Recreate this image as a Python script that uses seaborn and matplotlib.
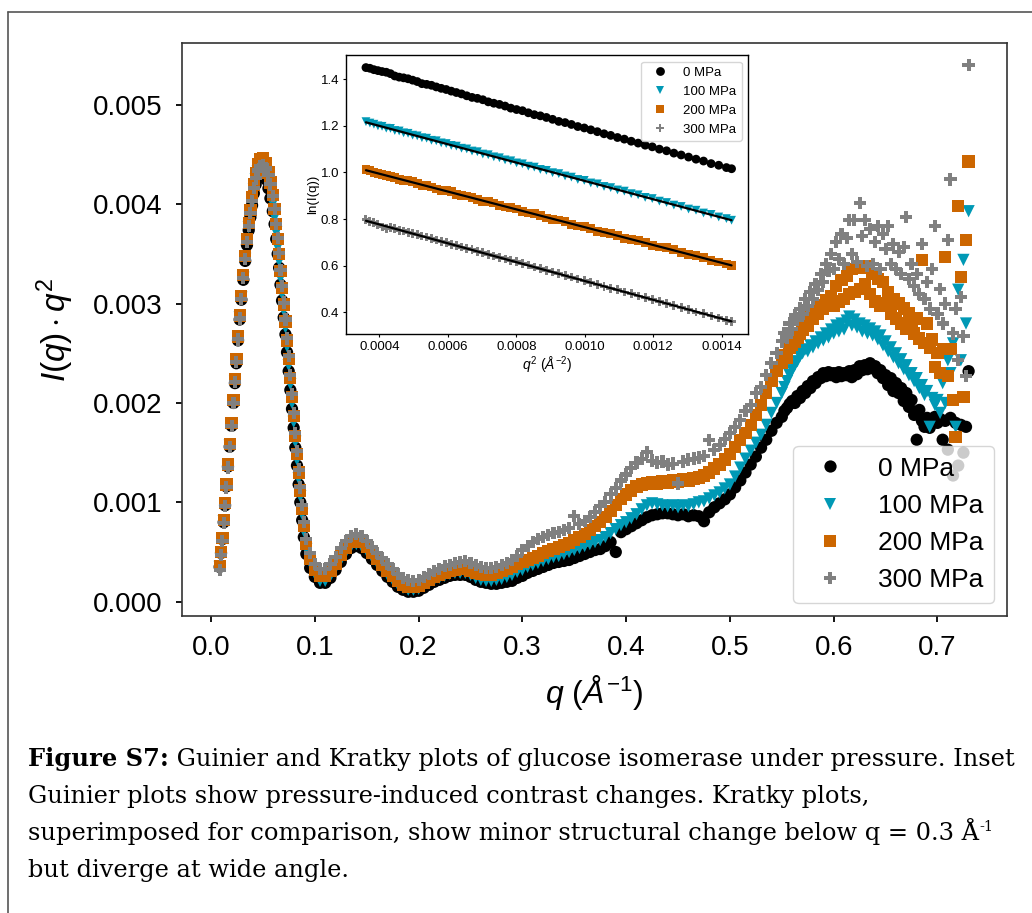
import numpy as np
import pandas as pd
import seaborn as sns
import matplotlib.pyplot as plt
from matplotlib.lines import Line2D
from matplotlib.ticker import FormatStrFormatter

sns.set_theme(style="ticks")
plt.rcParams["font.family"] = ["Liberation Sans", "DejaVu Sans"]
plt.rcParams["mathtext.fontset"] = "custom"
plt.rcParams["mathtext.rm"] = "Liberation Sans"
plt.rcParams["mathtext.it"] = "Liberation Sans:italic"
plt.rcParams["mathtext.bf"] = "Liberation Sans:bold"
plt.rcParams["text.color"] = "black"
plt.rcParams["axes.labelcolor"] = "black"

"""
Data read off the figure
"""
pressures = ["0 MPa", "100 MPa", "200 MPa", "300 MPa"]
colors = ["#000000", "#0099b5", "#cc6600", "#808080"]
markers = ["o", "v", "s", "P"]

# Kratky plot: q (1/A) and I(q)*q^2 (in units of 1e-3)
q_main = [
    0.0083, 0.0096, 0.0109, 0.0122, 0.0135, 0.0148, 0.0163, 0.0180, 0.0198, 0.0216,
    0.0230, 0.0244, 0.0260, 0.0276, 0.0292, 0.0311, 0.0329, 0.0346, 0.0363, 0.0379,
    0.0395, 0.0412, 0.0430, 0.0450, 0.0474, 0.0504, 0.0530, 0.0553, 0.0572, 0.0595,
    0.0612, 0.0628, 0.0642, 0.0656, 0.0669, 0.0684, 0.0700, 0.0717, 0.0732, 0.0748,
    0.0764, 0.0780, 0.0796, 0.0812, 0.0828, 0.0844, 0.0860, 0.0878, 0.0894, 0.0918,
    0.0955,
    0.100, 0.105, 0.110, 0.115, 0.120, 0.125, 0.130, 0.135, 0.140, 0.145,
    0.150, 0.155, 0.160, 0.165, 0.170, 0.175, 0.180, 0.185, 0.190, 0.195,
    0.200, 0.205, 0.210, 0.215, 0.220, 0.225, 0.230, 0.235, 0.240, 0.245,
    0.250, 0.255, 0.260, 0.265, 0.270, 0.275, 0.280, 0.285, 0.290, 0.295,
    0.300, 0.305, 0.310, 0.315, 0.320, 0.325, 0.330, 0.335, 0.340, 0.345,
    0.350, 0.355, 0.360, 0.365, 0.370, 0.375, 0.380, 0.385, 0.390, 0.395,
    0.400, 0.405, 0.410, 0.415, 0.420, 0.425, 0.430, 0.435, 0.440, 0.445,
    0.450, 0.455, 0.460, 0.465, 0.470, 0.475, 0.480, 0.485, 0.490, 0.495,
    0.500, 0.505, 0.510, 0.515, 0.520, 0.525, 0.530, 0.535, 0.540, 0.545,
    0.5500, 0.5525, 0.5550, 0.5575, 0.5600, 0.5625, 0.5650, 0.5675, 0.5700, 0.5725,
    0.5750, 0.5775, 0.5800, 0.5825, 0.5850, 0.5875, 0.5900, 0.5925, 0.5950, 0.5975,
    0.6000, 0.6025, 0.6050, 0.6075, 0.6100, 0.6125, 0.6150, 0.6175, 0.6200, 0.6225,
    0.6250, 0.6275, 0.6300, 0.6325, 0.6350, 0.6375, 0.6400, 0.6425, 0.6450, 0.6475,
    0.6500, 0.6525, 0.6550, 0.6575, 0.6600, 0.6625, 0.6650, 0.6675, 0.6700, 0.6725,
    0.6750, 0.6775, 0.6800, 0.6825, 0.6850, 0.6875, 0.6900, 0.6925, 0.6950, 0.6975,
    0.7000, 0.7025, 0.7050, 0.7075, 0.7100, 0.7125, 0.7150, 0.7175, 0.7200, 0.7225,
    0.7250, 0.7275, 0.7300,
]

kratky_0 = [
    0.35, 0.49, 0.63, 0.80, 0.97, 1.16, 1.36, 1.56, 1.77, 2.00,
    2.20, 2.40, 2.63, 2.84, 3.04, 3.24, 3.43, 3.59, 3.74, 3.87,
    3.99, 4.11, 4.20, 4.27, 4.30, 4.30, 4.25, 4.16, 4.06, 3.93,
    3.80, 3.65, 3.50, 3.36, 3.19, 3.03, 2.86, 2.69, 2.51, 2.32,
    2.13, 1.94, 1.75, 1.55, 1.37, 1.18, 1.00, 0.82, 0.65, 0.48,
    0.34,
    0.25, 0.19, 0.19, 0.24, 0.32, 0.40, 0.48, 0.54, 0.56, 0.54,
    0.49, 0.43, 0.37, 0.31, 0.25, 0.20, 0.15, 0.12, 0.10, 0.10,
    0.11, 0.14, 0.17, 0.20, 0.22, 0.24, 0.26, 0.27, 0.27, 0.27,
    0.25, 0.22, 0.20, 0.19, 0.18, 0.18, 0.19, 0.20, 0.21, 0.24,
    0.26, 0.29, 0.31, 0.33, 0.35, 0.37, 0.39, 0.40, 0.41, 0.42,
    0.44, 0.46, 0.48, 0.50, 0.52, 0.53, 0.56, 0.60, 0.50, 0.70,
    0.73, 0.76, 0.79, 0.82, 0.85, 0.87, 0.88, 0.89, 0.89, 0.88,
    0.87, 0.88, 0.86, 0.87, 0.86, 0.81, 0.90, 0.95, 0.99, 1.03,
    1.08, 1.15, 1.22, 1.30, 1.38, 1.46, 1.55, 1.63, 1.72, 1.80,
    1.86, 1.92, 1.95, 1.99, 2.02, 2.00, 2.07, 2.05, 2.12, 2.10,
    2.17, 2.15, 2.22, 2.20, 2.26, 2.25, 2.30, 2.27, 2.31, 2.28,
    2.30, 2.26, 2.31, 2.27, 2.30, 2.28, 2.32, 2.26, 2.33, 2.29,
    2.37, 2.33, 2.38, 2.34, 2.40, 2.35, 2.37, 2.30, 2.33, 2.25,
    2.28, 2.18, 2.25, 2.12, 2.20, 2.10, 2.15, 2.02, 2.10, 1.96,
    2.03, 1.88, 1.63, 1.93, 1.82, 1.76, 1.85, 1.75, 1.80, 1.86,
    1.80, 1.84, 1.63, 1.82, 1.53, 1.85, 1.27, 1.80, 1.37, 1.78,
    1.50, 1.76, 2.32,
]

kratky_100 = [
    0.35, 0.49, 0.63, 0.81, 0.98, 1.17, 1.37, 1.57, 1.78, 2.01,
    2.22, 2.42, 2.65, 2.86, 3.06, 3.26, 3.45, 3.62, 3.77, 3.90,
    4.02, 4.15, 4.25, 4.33, 4.37, 4.38, 4.33, 4.24, 4.14, 4.01,
    3.87, 3.72, 3.57, 3.43, 3.26, 3.10, 2.93, 2.76, 2.57, 2.38,
    2.19, 2.00, 1.81, 1.61, 1.43, 1.24, 1.06, 0.88, 0.71, 0.53,
    0.39,
    0.28, 0.21, 0.21, 0.26, 0.34, 0.42, 0.50, 0.56, 0.58, 0.56,
    0.51, 0.45, 0.39, 0.33, 0.27, 0.22, 0.17, 0.14, 0.12, 0.12,
    0.13, 0.16, 0.19, 0.22, 0.24, 0.26, 0.28, 0.29, 0.29, 0.29,
    0.27, 0.24, 0.22, 0.21, 0.21, 0.22, 0.23, 0.25, 0.27, 0.30,
    0.32, 0.35, 0.37, 0.39, 0.41, 0.43, 0.45, 0.46, 0.48, 0.50,
    0.52, 0.54, 0.56, 0.58, 0.60, 0.62, 0.65, 0.69, 0.73, 0.77,
    0.80, 0.84, 0.88, 0.93, 0.97, 0.99, 0.98, 0.97, 0.96, 0.97,
    0.95, 0.97, 0.96, 0.98, 1.00, 1.01, 1.04, 1.07, 1.10, 1.14,
    1.18, 1.26, 1.35, 1.44, 1.52, 1.60, 1.68, 1.78, 1.90, 2.00,
    2.10, 2.16, 2.22, 2.28, 2.33, 2.38, 2.42, 2.47, 2.50, 2.54,
    2.52, 2.58, 2.56, 2.62, 2.60, 2.66, 2.63, 2.70, 2.66, 2.74,
    2.70, 2.78, 2.72, 2.80, 2.74, 2.83, 2.87, 2.78, 2.84, 2.76,
    2.80, 2.72, 2.78, 2.70, 2.75, 2.68, 2.72, 2.64, 2.68, 2.58,
    2.62, 2.52, 2.56, 2.46, 2.50, 2.40, 2.44, 2.34, 2.38, 2.28,
    2.30, 2.22, 2.25, 2.15, 2.18, 2.08, 2.12, 1.76, 2.05, 1.98,
    2.03, 1.90, 2.20, 2.00, 2.43, 2.30, 2.60, 1.76, 3.14, 2.43,
    3.44, 2.80, 3.93,
]

kratky_200 = [
    0.36, 0.50, 0.64, 0.82, 0.99, 1.18, 1.38, 1.59, 1.80, 2.03,
    2.24, 2.44, 2.67, 2.88, 3.08, 3.29, 3.48, 3.65, 3.81, 3.94,
    4.07, 4.20, 4.31, 4.40, 4.45, 4.46, 4.41, 4.32, 4.22, 4.09,
    3.95, 3.80, 3.65, 3.50, 3.33, 3.16, 2.99, 2.82, 2.63, 2.44,
    2.25, 2.06, 1.87, 1.67, 1.49, 1.30, 1.12, 0.93, 0.76, 0.58,
    0.43,
    0.32, 0.26, 0.26, 0.31, 0.38, 0.47, 0.54, 0.60, 0.62, 0.60,
    0.55, 0.49, 0.43, 0.37, 0.31, 0.26, 0.21, 0.17, 0.15, 0.15,
    0.16, 0.19, 0.22, 0.25, 0.27, 0.29, 0.31, 0.32, 0.33, 0.33,
    0.31, 0.29, 0.28, 0.27, 0.27, 0.29, 0.31, 0.33, 0.35, 0.38,
    0.40, 0.42, 0.44, 0.46, 0.49, 0.51, 0.53, 0.55, 0.57, 0.59,
    0.62, 0.65, 0.68, 0.72, 0.76, 0.80, 0.85, 0.91, 0.97, 1.03,
    1.08, 1.12, 1.16, 1.18, 1.19, 1.20, 1.19, 1.21, 1.20, 1.22,
    1.21, 1.23, 1.22, 1.24, 1.25, 1.27, 1.30, 1.34, 1.38, 1.43,
    1.49, 1.56, 1.63, 1.70, 1.78, 1.88, 1.98, 2.10, 2.22, 2.32,
    2.40, 2.48, 2.45, 2.55, 2.58, 2.62, 2.66, 2.70, 2.74, 2.80,
    2.78, 2.86, 2.85, 2.93, 2.90, 2.98, 2.95, 3.04, 3.00, 3.08,
    2.98, 3.18, 3.02, 3.24, 3.05, 3.28, 3.10, 3.35, 3.12, 3.38,
    3.15, 3.36, 3.20, 3.38, 3.10, 3.30, 3.02, 3.25, 2.98, 3.22,
    3.00, 3.12, 2.90, 3.05, 2.85, 3.00, 2.80, 2.95, 2.75, 2.90,
    2.80, 2.70, 2.85, 2.65, 3.44, 2.60, 2.80, 2.55, 2.64, 2.36,
    2.50, 2.30, 2.54, 3.47, 2.27, 2.54, 2.03, 1.66, 3.98, 3.27,
    2.06, 3.64, 4.43,
]

kratky_300 = [
    0.32, 0.47, 0.61, 0.79, 0.96, 1.15, 1.35, 1.56, 1.77, 2.00,
    2.21, 2.41, 2.64, 2.85, 3.05, 3.26, 3.45, 3.62, 3.78, 3.91,
    4.03, 4.16, 4.26, 4.34, 4.38, 4.39, 4.36, 4.29, 4.20, 4.08,
    3.95, 3.80, 3.66, 3.51, 3.34, 3.18, 3.01, 2.84, 2.65, 2.47,
    2.28, 2.09, 1.90, 1.70, 1.52, 1.33, 1.15, 0.97, 0.80, 0.63,
    0.49,
    0.38, 0.33, 0.33, 0.38, 0.45, 0.54, 0.61, 0.66, 0.68, 0.66,
    0.61, 0.55, 0.49, 0.44, 0.38, 0.33, 0.28, 0.24, 0.22, 0.21,
    0.22, 0.25, 0.28, 0.31, 0.33, 0.36, 0.37, 0.39, 0.40, 0.41,
    0.39, 0.37, 0.35, 0.34, 0.34, 0.35, 0.37, 0.39, 0.42, 0.46,
    0.52, 0.56, 0.60, 0.63, 0.65, 0.67, 0.69, 0.70, 0.72, 0.74,
    0.86, 0.78, 0.81, 0.85, 0.90, 0.96, 1.00, 1.08, 1.14, 1.22,
    1.28, 1.35, 1.40, 1.44, 1.51, 1.42, 1.40, 1.41, 1.38, 1.39,
    1.19, 1.41, 1.43, 1.44, 1.45, 1.47, 1.63, 1.53, 1.58, 1.64,
    1.70, 1.76, 1.83, 1.92, 1.98, 2.10, 2.16, 2.28, 2.40, 2.50,
    2.62, 2.70, 2.66, 2.80, 2.74, 2.88, 2.84, 2.95, 2.90, 3.05,
    2.98, 3.12, 3.05, 3.20, 3.14, 3.30, 3.22, 3.40, 3.33, 3.50,
    3.35, 3.62, 3.45, 3.70, 3.40, 3.66, 3.84, 3.50, 3.84, 3.42,
    4.01, 3.68, 3.84, 3.38, 3.75, 3.40, 3.62, 3.78, 3.35, 3.70,
    3.55, 3.78, 3.40, 3.60, 3.35, 3.52, 3.30, 3.57, 3.87, 3.25,
    3.40, 3.18, 3.30, 3.10, 3.60, 3.05, 3.22, 2.95, 3.35, 3.78,
    2.90, 3.15, 2.80, 3.00, 3.64, 4.25, 2.70, 2.95, 2.43, 3.07,
    2.67, 2.27, 5.40,
]

# Guinier inset: q^2 (1/A^2) and ln(I(q))
q2_inset = [
    3.610e-4, 3.725e-4, 3.842e-4, 3.960e-4, 4.080e-4, 4.203e-4, 4.326e-4, 4.452e-4, 4.580e-4, 4.709e-4,
    4.840e-4, 4.973e-4, 5.108e-4, 5.244e-4, 5.382e-4, 5.523e-4, 5.664e-4, 5.808e-4, 5.954e-4, 6.101e-4,
    6.250e-4, 6.401e-4, 6.554e-4, 6.708e-4, 6.864e-4, 7.023e-4, 7.182e-4, 7.344e-4, 7.508e-4, 7.673e-4,
    7.840e-4, 8.009e-4, 8.180e-4, 8.352e-4, 8.526e-4, 8.703e-4, 8.880e-4, 9.060e-4, 9.242e-4, 9.425e-4,
    9.610e-4, 9.797e-4, 9.986e-4, 1.0176e-3, 1.0368e-3, 1.0563e-3, 1.0758e-3, 1.0956e-3, 1.1156e-3, 1.1357e-3,
    1.1560e-3, 1.1765e-3, 1.1972e-3, 1.2180e-3, 1.2390e-3, 1.2603e-3, 1.2816e-3, 1.3032e-3, 1.3250e-3, 1.3469e-3,
    1.3690e-3, 1.3913e-3, 1.4138e-3, 1.4288e-3,
]

ln_0 = [
    1.450, 1.447, 1.441, 1.437, 1.433, 1.430, 1.424, 1.414, 1.409, 1.406,
    1.402, 1.396, 1.390, 1.381, 1.378, 1.374, 1.367, 1.361, 1.356, 1.349,
    1.343, 1.337, 1.329, 1.322, 1.318, 1.312, 1.303, 1.297, 1.292, 1.285,
    1.276, 1.270, 1.265, 1.256, 1.248, 1.243, 1.236, 1.228, 1.219, 1.214,
    1.206, 1.197, 1.191, 1.183, 1.175, 1.166, 1.159, 1.150, 1.143, 1.134,
    1.126, 1.117, 1.110, 1.100, 1.093, 1.083, 1.075, 1.066, 1.057, 1.049,
    1.038, 1.031, 1.021, 1.016,
]
ln_100 = [
    1.218, 1.212, 1.207, 1.200, 1.198, 1.190, 1.189, 1.180, 1.178, 1.170,
    1.168, 1.160, 1.157, 1.149, 1.147, 1.138, 1.136, 1.127, 1.124, 1.116,
    1.113, 1.104, 1.101, 1.092, 1.089, 1.079, 1.076, 1.067, 1.063, 1.054,
    1.050, 1.041, 1.037, 1.027, 1.023, 1.013, 1.009, 0.999, 0.995, 0.985,
    0.980, 0.970, 0.966, 0.955, 0.951, 0.940, 0.935, 0.925, 0.920, 0.909,
    0.904, 0.893, 0.888, 0.877, 0.871, 0.860, 0.854, 0.843, 0.838, 0.826,
    0.820, 0.809, 0.802, 0.795,
]
ln_200 = [
    1.013, 1.008, 0.999, 0.994, 0.990, 0.988, 0.984, 0.979, 0.971, 0.966,
    0.964, 0.960, 0.951, 0.945, 0.943, 0.938, 0.929, 0.924, 0.922, 0.917,
    0.907, 0.901, 0.899, 0.893, 0.883, 0.877, 0.875, 0.869, 0.858, 0.852,
    0.850, 0.843, 0.832, 0.826, 0.824, 0.816, 0.805, 0.798, 0.796, 0.788,
    0.777, 0.770, 0.768, 0.760, 0.748, 0.741, 0.738, 0.730, 0.718, 0.711,
    0.709, 0.700, 0.687, 0.680, 0.677, 0.668, 0.656, 0.648, 0.645, 0.636,
    0.623, 0.616, 0.607, 0.601,
]
ln_300 = [
    0.798, 0.790, 0.784, 0.776, 0.766, 0.760, 0.763, 0.758, 0.752, 0.749,
    0.744, 0.739, 0.733, 0.727, 0.723, 0.716, 0.710, 0.705, 0.699, 0.692,
    0.687, 0.680, 0.674, 0.668, 0.661, 0.656, 0.649, 0.642, 0.636, 0.629,
    0.622, 0.617, 0.608, 0.603, 0.594, 0.588, 0.580, 0.573, 0.566, 0.557,
    0.551, 0.543, 0.535, 0.528, 0.519, 0.512, 0.503, 0.497, 0.487, 0.480,
    0.470, 0.464, 0.454, 0.447, 0.437, 0.430, 0.419, 0.412, 0.401, 0.395,
    0.384, 0.376, 0.365, 0.361,
]

caption_lines = [
    ("Figure S7:", " Guinier and Kratky plots of glucose isomerase under pressure. Inset"),
    ("", "Guinier plots show pressure-induced contrast changes. Kratky plots,"),
    ("", "superimposed for comparison, show minor structural change below q = 0.3 \u00c5"),
    ("", "but diverge at wide angle."),
]

"""
Build long tables for seaborn
"""
kratky = pd.concat(
    [pd.DataFrame({"q": q_main, "Iq2": np.array(v) * 1e-3, "pressure": p})
     for p, v in zip(pressures, [kratky_0, kratky_100, kratky_200, kratky_300])],
    ignore_index=True)
guinier = pd.concat(
    [pd.DataFrame({"q2": q2_inset, "lnI": v, "pressure": p})
     for p, v in zip(pressures, [ln_0, ln_100, ln_200, ln_300])],
    ignore_index=True)

palette = dict(zip(pressures, colors))
marker_map = dict(zip(pressures, markers))

W, H = 1032, 913
fig = plt.figure(figsize=(W / 100, H / 100), dpi=100)

# Main Kratky axes
ax = fig.add_axes([182 / W, 1 - 616 / H, (1007 - 182) / W, (616 - 43) / H])
sns.scatterplot(data=kratky, x="q", y="Iq2", hue="pressure", style="pressure",
                palette=palette, markers=marker_map, s=78, linewidth=0, ax=ax)
ax.set_xlim(-0.028, 0.767)
ax.set_ylim(-0.000144, 0.005623)
ax.set_xticks([0.0, 0.1, 0.2, 0.3, 0.4, 0.5, 0.6, 0.7])
ax.set_yticks([0.0, 0.001, 0.002, 0.003, 0.004, 0.005])
ax.xaxis.set_major_formatter(FormatStrFormatter("%.1f"))
ax.yaxis.set_major_formatter(FormatStrFormatter("%.3f"))
ax.tick_params(labelsize=20, length=4, width=1.3, pad=10, colors="black")
ax.set_xlabel(r"$q\ (\AA^{-1})$", fontsize=23, labelpad=8)
ax.set_ylabel(r"$I(q)\cdot q^2$", fontsize=24, labelpad=12)
for sp in ax.spines.values():
    sp.set_color("#333333")
    sp.set_linewidth(1.2)
sns.move_legend(ax, "lower right", title=None, fontsize=19, frameon=True)

# Guinier inset
axin = fig.add_axes([346 / W, 1 - 334.3 / H, (748.3 - 346) / W, (334.3 - 55) / H])
sns.scatterplot(data=guinier, x="q2", y="lnI", hue="pressure", style="pressure",
                palette=palette, markers=marker_map, s=40, linewidth=0, ax=axin)
for v in [ln_100, ln_200, ln_300]:
    fit = np.polyfit(q2_inset, v, 1)
    axin.plot(q2_inset, np.polyval(fit, q2_inset), color="black", lw=1.6)
axin.set_xlim(0.0003027, 0.0014777)
axin.set_ylim(0.3056, 1.504)
axin.set_xticks([0.0004, 0.0006, 0.0008, 0.0010, 0.0012, 0.0014])
axin.set_yticks([0.4, 0.6, 0.8, 1.0, 1.2, 1.4])
axin.xaxis.set_major_formatter(FormatStrFormatter("%.4f"))
axin.yaxis.set_major_formatter(FormatStrFormatter("%.1f"))
axin.tick_params(labelsize=9.5, length=2.5, width=0.8, pad=2.5, colors="black")
axin.set_xlabel(r"$q^2\ (\AA^{-2})$", fontsize=10, labelpad=1)
axin.set_ylabel("ln(I(q))", fontsize=9.5, labelpad=1)
for sp in axin.spines.values():
    sp.set_color("black")
    sp.set_linewidth(1.0)
sns.move_legend(axin, "upper right", title=None, fontsize=9.5, frameon=True)

# Outer frame lines (left and top)
fig.add_artist(Line2D([7.5 / W, 7.5 / W], [0, 1 - 12 / H], transform=fig.transFigure,
                      color="#555555", lw=1.2))
fig.add_artist(Line2D([7.5 / W, 1], [1 - 12 / H, 1 - 12 / H], transform=fig.transFigure,
                      color="#555555", lw=1.2))

# Caption below the plot
renderer = fig.canvas.get_renderer()
cap_font = "DejaVu Serif"
cap_size = 17.4
baselines = [766, 803, 840, 877]
for (bold, rest), yb in zip(caption_lines, baselines):
    x0 = 28
    if bold:
        tb = fig.text(x0 / W, 1 - yb / H, bold, family=cap_font, fontweight="bold",
                      fontsize=cap_size, va="baseline", ha="left", color="black")
        x0 = tb.get_window_extent(renderer).x1
    tr = fig.text(x0 / W, 1 - yb / H, rest, family=cap_font,
                  fontsize=cap_size, va="baseline", ha="left", color="black")
    if rest.endswith("\u00c5"):
        x1 = tr.get_window_extent(renderer).x1
        fig.text(x1 / W, 1 - (yb - 9) / H, "-1", family=cap_font,
                 fontsize=cap_size * 0.6, va="baseline", ha="left", color="black")

fig.savefig("out.png", dpi=100)
